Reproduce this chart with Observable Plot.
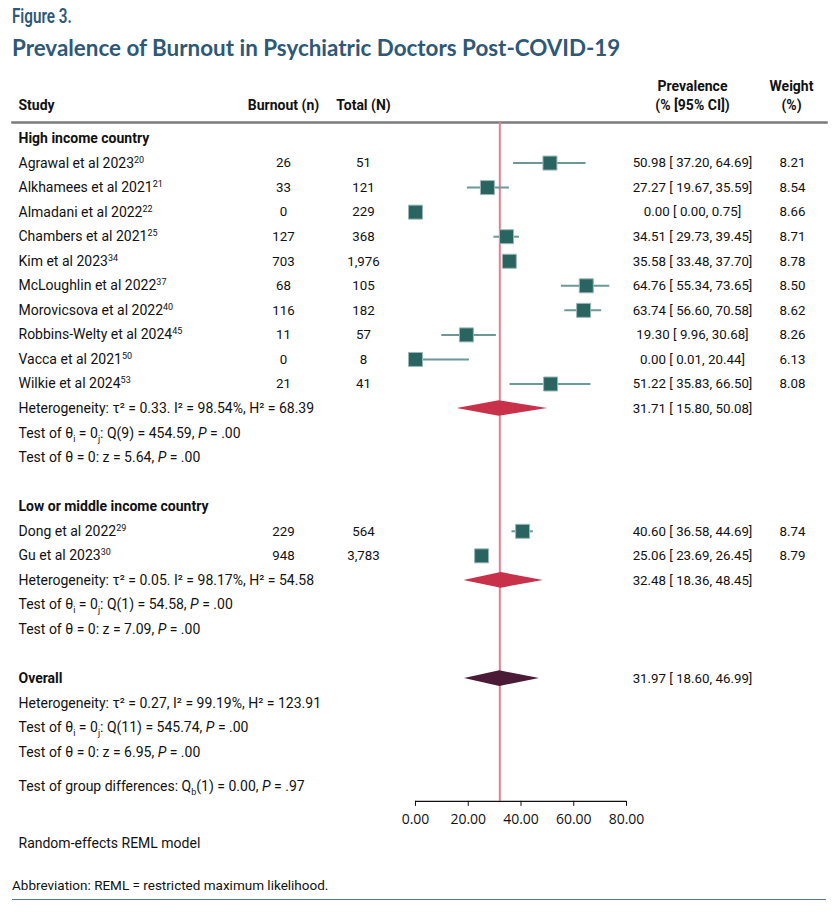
<!DOCTYPE html>
<html><head><meta charset="utf-8">
<script src="https://cdn.jsdelivr.net/npm/d3@7"></script>
<script src="https://cdn.jsdelivr.net/npm/@observablehq/plot@0.6"></script>
<style>
body{margin:0;background:#fff;}
#wrap{width:838px;position:relative;}
#head{height:70px;position:relative;}
#fig{position:absolute;left:12px;top:5px;font-family:Roboto,sans-serif;font-weight:600;font-size:19.5px;line-height:24px;color:#2e5877;transform:scaleX(0.78);transform-origin:left center;white-space:nowrap;}
#title{position:absolute;left:12px;top:34px;font-family:Lato,sans-serif;font-weight:700;font-size:22.4px;line-height:28px;color:#2e5877;white-space:nowrap;}
#foot{position:relative;padding-top:16px;margin:0 12px;font-family:Roboto,sans-serif;font-size:13.5px;line-height:18px;color:#111;}
#rule{margin-top:5px;border-top:1.5px solid #5a7896;}
svg{display:block;}
</style></head>
<body><div id="wrap">
<div id="head"><div id="fig">Figure 3.</div><div id="title">Prevalence of Burnout in Psychiatric Doctors Post-COVID-19</div></div>
<div id="chart"></div>
<div id="foot"><div id="abbr">Abbreviation: REML = restricted maximum likelihood.</div><div id="rule"></div></div>
</div>
<script>
// ---- data ----
const studyNames = ["Agrawal et al 2023","Alkhamees et al 2021","Almadani et al 2022","Chambers et al 2021","Kim et al 2023","McLoughlin et al 2022","Morovicsova et al 2022","Robbins-Welty et al 2024","Vacca et al 2021","Wilkie et al 2024","Dong et al 2022","Gu et al 2023"];
const studyRefs = [20,21,22,25,34,37,40,45,50,53,29,30];
const studyGroup = [0,0,0,0,0,0,0,0,0,0,1,1];
const burnoutN = [26,33,0,127,703,68,116,11,0,21,229,948];
const totalN = [51,121,229,368,1976,105,182,57,8,41,564,3783];
const prevalence = [50.98,27.27,0.00,34.51,35.58,64.76,63.74,19.30,0.00,51.22,40.60,25.06];
const ciLow = [37.20,19.67,0.00,29.73,33.48,55.34,56.60,9.96,0.01,35.83,36.58,23.69];
const ciHigh = [64.69,35.59,0.75,39.45,37.70,73.65,70.58,30.68,20.44,66.50,44.69,26.45];
const weights = [8.21,8.54,8.66,8.71,8.78,8.50,8.62,8.26,6.13,8.08,8.74,8.79];

const groupNames = ["High income country","Low or middle income country"];
const groupEst = [31.71,32.48];
const groupLow = [15.80,18.36];
const groupHigh = [50.08,48.45];
const groupHet = ["Heterogeneity: τ² = 0.33. I² = 98.54%, H² = 68.39","Heterogeneity: τ² = 0.05. I² = 98.17%, H² = 54.58"];
const groupQ = ["Test of θ_{i} = 0_{j}: Q(9) = 454.59, *P* = .00","Test of θ_{i} = 0_{j}: Q(1) = 54.58, *P* = .00"];
const groupZ = ["Test of θ = 0: z = 5.64, *P* = .00","Test of θ = 0: z = 7.09, *P* = .00"];

const overallLabel = "Overall";
const overallEst = [31.97];
const overallLow = [18.60];
const overallHigh = [46.99];
const overallStats = ["Heterogeneity: τ² = 0.27, I² = 99.19%, H² = 123.91","Test of θ_{i} = 0_{j}: Q(11) = 545.74, *P* = .00","Test of θ = 0: z = 6.95, *P* = .00"];
const groupDiff = "Test of group differences: Q_{b}(1) = 0.00, *P* = .97";
const modelNote = "Random-effects REML model";

const headTop = ["Prevalence","Weight"];
const headBottom = ["Study","Burnout (n)","Total (N)","(% [95% CI])","(%)"];
const xTicks = [0,20,40,60,80];

// ---- layout ----
const rowH = 24.55, row0 = 68, H = 790;
const fmt2 = d => d.toFixed(2);
const ciText = (e,l,h) => `${fmt2(e)} [ ${fmt2(l)}, ${fmt2(h)}]`;
let r = 0;
const labelRows = [], studyRows = [], groupSum = [], overallSum = [];
groupNames.forEach((g, gi) => {
  labelRows.push({row: r++, text: g, bold: true});
  studyNames.forEach((n, k) => {
    if (studyGroup[k] !== gi) return;
    const row = r++;
    studyRows.push({row, n: burnoutN[k], N: d3.format(",")(totalN[k]), est: prevalence[k], lo: ciLow[k], hi: ciHigh[k], w: fmt2(weights[k]), ci: ciText(prevalence[k], ciLow[k], ciHigh[k])});
    labelRows.push({row, text: `${n}^{${studyRefs[k]}}`});
  });
  groupSum.push({row: r, est: groupEst[gi], lo: groupLow[gi], hi: groupHigh[gi], ci: ciText(groupEst[gi], groupLow[gi], groupHigh[gi])});
  [groupHet[gi], groupQ[gi], groupZ[gi]].forEach(s => labelRows.push({row: r++, text: s}));
  r++;
});
overallSum.push({row: r, est: overallEst[0], lo: overallLow[0], hi: overallHigh[0], ci: ciText(overallEst[0], overallLow[0], overallHigh[0])});
labelRows.push({row: r++, text: overallLabel, bold: true});
overallStats.forEach(s => labelRows.push({row: r++, text: s}));
labelRows.push({row: r + 0.4, text: groupDiff});
const axisRow = r + 1;
const yBottom = row0 + axisRow * rowH;

const dh = 7.8 / rowH;
const diamond = (arr, key) => arr.flatMap((d, i) => [
  {key: key + i, x: d.lo, y1: d.row, y2: d.row},
  {key: key + i, x: d.est, y1: d.row - dh, y2: d.row + dh},
  {key: key + i, x: d.hi, y1: d.row, y2: d.row}
]);
const allSum = groupSum.concat(overallSum);

const numSize = 13.3, labSize = 14;
const colText = (data, text, dx) => Plot.text(data, {y: "row", text, frameAnchor: "left", dx, textAnchor: "middle", lineAnchor: "middle", fontSize: numSize});
const head = (t, dx, dy, anchor = "middle") => Plot.text([t], {frameAnchor: "top-left", dx, dy, textAnchor: anchor, lineAnchor: "middle", fontWeight: "bold", fontSize: labSize});

const chart = Plot.plot({
  width: 838, height: H,
  marginLeft: 12, marginRight: 12, marginTop: 52, marginBottom: H - yBottom,
  x: {domain: [xTicks[0], xTicks[xTicks.length - 1]], range: [415, 626], axis: null},
  y: {domain: [0, axisRow], range: [row0, yBottom], axis: null},
  style: {fontFamily: "Roboto, sans-serif", fontSize: "14px", color: "#111", background: "white", overflow: "visible"},
  marks: [
    Plot.frame({anchor: "top", stroke: "#7a7a7a", strokeWidth: 2.5}),
    Plot.ruleX(overallEst, {stroke: "#e3808f", strokeWidth: 2}),
    Plot.ruleY([axisRow], {x1: xTicks[0], x2: xTicks[xTicks.length - 1], stroke: "#111", strokeWidth: 1.2}),
    Plot.axisX({ticks: xTicks, tickFormat: fmt2, tickSize: 5, tickPadding: 8, fontSize: 14, fontFamily: "'Open Sans', sans-serif", label: null, stroke: "#111"}),
    Plot.ruleY(studyRows, {y: "row", x1: "lo", x2: "hi", stroke: "#6b9898", strokeWidth: 2}),
    Plot.dot(studyRows, {x: "est", y: "row", symbol: "square", r: 7.9, fill: "#2a6461", stroke: "#9ab8b7", strokeWidth: 1}),
    Plot.areaY(diamond(groupSum, "g"), {x: "x", y1: "y1", y2: "y2", z: "key", fill: "#c93049"}),
    Plot.areaY(diamond(overallSum, "o"), {x: "x", y1: "y1", y2: "y2", z: "key", fill: "#4a1a36"}),
    Plot.text(labelRows.filter(d => d.bold), {y: "row", text: "text", frameAnchor: "left", dx: 6, textAnchor: "start", lineAnchor: "middle", fontWeight: "bold", fontSize: labSize}),
    Plot.text(labelRows.filter(d => !d.bold), {y: "row", text: "text", frameAnchor: "left", dx: 6, textAnchor: "start", lineAnchor: "middle", fontSize: labSize}),
    colText(studyRows, "n", 271),
    colText(studyRows, "N", 351),
    colText(allSum.concat(studyRows), "ci", 680),
    colText(studyRows, "w", 780),
    Plot.text([modelNote], {frameAnchor: "bottom-left", dx: 6, dy: 42, textAnchor: "start", lineAnchor: "middle", fontSize: labSize}),
    // header
    head(headBottom[0], 6, -17, "start"),
    head(headBottom[1], 271, -17),
    head(headBottom[2], 351, -17),
    head(headTop[0], 680, -36),
    head(headBottom[3], 680, -17),
    head(headTop[1], 779, -36),
    head(headBottom[4], 779, -17)
  ]
});
document.getElementById("chart").appendChild(chart);

// rich text: *italic*, _{sub}, ^{sup}
const NS = "http://www.w3.org/2000/svg";
chart.querySelectorAll("text").forEach(t => {
  if (t.querySelector("tspan")) return;
  const s = t.textContent;
  if (!/\*|_\{|\^\{/.test(s)) return;
  t.textContent = "";
  let shift = 0;
  s.split(/(\*[^*]+\*|_\{[^}]*\}|\^\{[^}]*\})/).forEach(part => {
    if (!part) return;
    const sp = document.createElementNS(NS, "tspan");
    let target = 0, txt = part;
    if (part.startsWith("*")) { txt = part.slice(1, -1); sp.setAttribute("font-style", "italic"); }
    else if (part.startsWith("_{")) { txt = part.slice(2, -1); target = 4; sp.setAttribute("font-size", "9px"); }
    else if (part.startsWith("^{")) { txt = part.slice(2, -1); target = -5; sp.setAttribute("font-size", "9px"); }
    if (target !== shift) sp.setAttribute("dy", target - shift);
    shift = target;
    sp.textContent = txt;
    t.appendChild(sp);
  });
});
</script>
</body></html>
